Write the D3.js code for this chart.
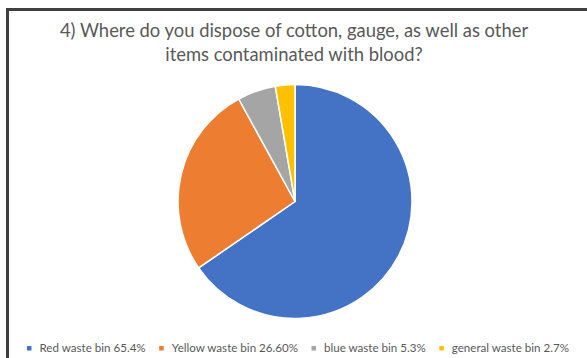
<!DOCTYPE html>
<html>
<head>
<meta charset="utf-8">
<script src="https://cdn.jsdelivr.net/npm/d3@7"></script>
<style>
  html, body { margin: 0; padding: 0; background: #fff; }
  svg { display: block; }
</style>
</head>
<body>
<script>
// Survey answers: where blood-contaminated items are discarded
const categories = ["Red waste bin", "Yellow waste bin", "blue waste bin", "general waste bin"];
const values = [65.4, 26.6, 5.3, 2.7];
const valueLabels = ["65.4%", "26.60%", "5.3%", "2.7%"];
const colors = ["#4472C4", "#ED7D31", "#A5A5A5", "#FFC000"];
const titleLines = ["4) Where do you dispose of cotton, gauge, as well as other",
                    "items contaminated with blood?"];

const W = 587, H = 358;
const svg = d3.select("body").append("svg").attr("width", W).attr("height", H);

// chart frame (top and left edges visible)
svg.append("line").attr("x1", 7.5).attr("x2", W).attr("y1", 9.5).attr("y2", 9.5)
  .attr("stroke", "#3f3f3f").attr("stroke-width", 3);
svg.append("line").attr("x1", 7.5).attr("x2", 7.5).attr("y1", 8).attr("y2", H)
  .attr("stroke", "#3f3f3f").attr("stroke-width", 3);

// title
const title = svg.append("text").attr("text-anchor", "middle")
  .attr("font-family", "Lato, 'Open Sans', sans-serif").attr("font-size", 18.4)
  .attr("fill", "#595959");
title.selectAll("tspan").data(titleLines).join("tspan")
  .attr("x", 294).attr("y", (d, i) => 37 + i * 24).text(d => d);

// pie
const cx = 295, cy = 201.5, r = 117;
const pie = d3.pie().sort(null).value(d => d)(values);
const arc = d3.arc().innerRadius(0).outerRadius(r);
svg.append("g").attr("transform", `translate(${cx},${cy})`)
  .selectAll("path").data(pie).join("path")
  .attr("d", arc)
  .attr("fill", (d, i) => colors[i])
  .attr("stroke", "#fff").attr("stroke-width", 1.5).attr("stroke-linejoin", "round");

// legend: laid out left to right, centred under the chart
const sw = 4.5, textGap = 8, itemGap = 13.5, legendCenter = 298, legendY = 348.3;
const legend = svg.append("g").attr("font-family", "Lato, 'Open Sans', sans-serif")
  .attr("font-size", 11.6).attr("fill", "#595959");
const items = legend.selectAll("g").data(categories).join("g");
items.append("rect").attr("x", 0).attr("y", -sw / 2).attr("width", sw).attr("height", sw)
  .attr("fill", (d, i) => colors[i]);
items.append("text").attr("x", sw + textGap).attr("y", 4)
  .text((d, i) => `${d} ${valueLabels[i]}`);
const widths = items.nodes().map(n => sw + textGap + n.querySelector("text").getComputedTextLength());
const total = d3.sum(widths) + itemGap * (widths.length - 1);
let xPos = legendCenter - total / 2;
items.attr("transform", (d, i) => {
  const t = `translate(${xPos},${legendY})`;
  xPos += widths[i] + itemGap;
  return t;
});
</script>
</body>
</html>
